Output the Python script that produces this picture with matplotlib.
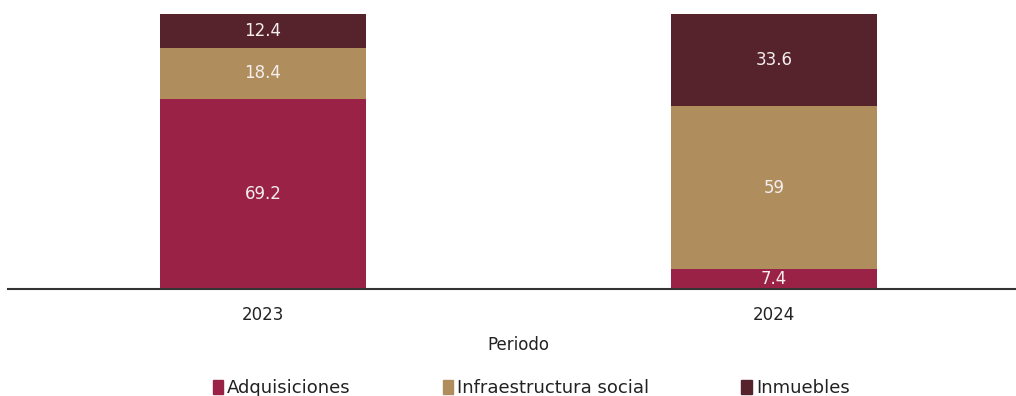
import numpy as np
import matplotlib.pyplot as plt
from matplotlib.patches import Patch

periods = ['2023', '2024']
adquisiciones = [69.2, 7.4]
infraestructura = [18.4, 59]
inmuebles = [12.4, 33.6]

series = [
    ('Adquisiciones', adquisiciones, '#9B2247'),
    ('Infraestructura social', infraestructura, '#B08D5C'),
    ('Inmuebles', inmuebles, '#56232D'),
]

plt.rcParams['font.family'] = ['DejaVu Sans']
FS = 12

fig = plt.figure(figsize=(10.16, 3.96), dpi=100)
ax = fig.add_axes([8 / 1016, 107 / 396, 1008 / 1016, 275 / 396])

x = np.arange(len(periods))
bottom = np.zeros(len(periods))
for name, vals, color in series:
    vals = np.array(vals, dtype=float)
    ax.bar(x, vals, width=0.403, bottom=bottom, color=color, label=name)
    for xi, b, v in zip(x, bottom, vals):
        ax.text(xi, b + v / 2, f'{v:g}', ha='center', va='center',
                color='#f4eeee', fontsize=FS)
    bottom += vals

ax.set_xlim(-255 / 511, 753 / 511)
ax.set_ylim(0, 100)
ax.set_xticks(x)
ax.set_xticklabels(periods, fontsize=FS, color='#222222')
ax.tick_params(axis='x', length=0, pad=12)
ax.set_yticks([])
for side in ['top', 'right', 'left']:
    ax.spines[side].set_visible(False)
ax.spines['bottom'].set_color('#333333')
ax.spines['bottom'].set_linewidth(1.5)

ax.set_xlabel('Periodo', fontsize=FS, color='#222222')
ax.xaxis.set_label_coords(510 / 1008, -47 / 275)

handles = [Patch(color=c, label=n) for n, _, c in series]
fig.legend(handles=handles, loc='center', bbox_to_anchor=(531 / 1016, 8 / 396),
           ncol=3, frameon=False, fontsize=13, handlelength=0.6, handleheight=0.8,
           handletextpad=0.2, columnspacing=5.1, labelcolor='#222222')

fig.savefig('out.png', dpi=100)
